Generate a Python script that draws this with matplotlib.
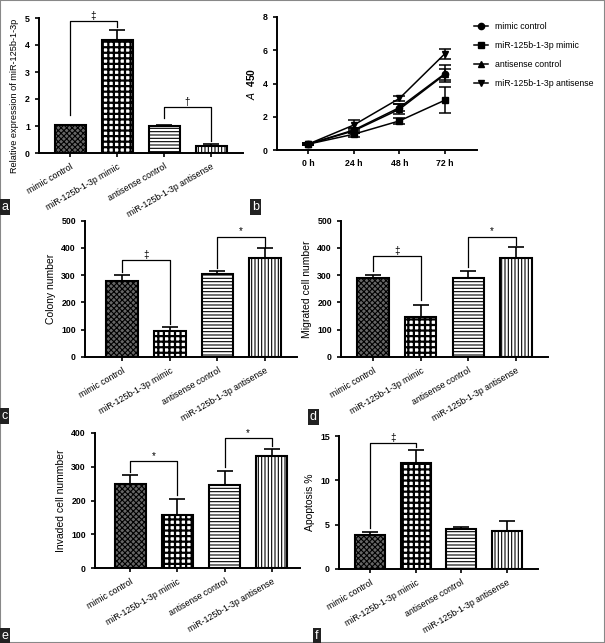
import matplotlib
matplotlib.use("Agg")
import matplotlib.pyplot as plt
from matplotlib.patches import Rectangle

plt.rcParams['font.family'] = ['Liberation Sans', 'DejaVu Sans']
plt.rcParams['hatch.linewidth'] = 0.8

W, H = 605, 643

groups = ['mimic control', 'miR-125b-1-3p mimic', 'antisense control', 'miR-125b-1-3p antisense']
hatches = ['xxxxxx', '+++', '-----', '|||||']
faces = ['#666666', 'white', 'white', 'white']
hatch_lw = [0.8, 1.6, 0.8, 0.8]

# panel a: relative expression
expr = [1.02, 4.17, 1.0, 0.25]
expr_err = [0.03, 0.38, 0.02, 0.1]

# panel b: CCK-8 growth curves
hours = ['0 h', '24 h', '48 h', '72 h']
a450 = {
    'mimic control': [0.35, 1.2, 2.55, 4.6],
    'miR-125b-1-3p mimic': [0.35, 0.95, 1.75, 3.0],
    'antisense control': [0.35, 1.15, 2.45, 4.55],
    'miR-125b-1-3p antisense': [0.35, 1.5, 3.1, 5.8],
}
a450_err = {
    'mimic control': [0.05, 0.15, 0.2, 0.5],
    'miR-125b-1-3p mimic': [0.05, 0.15, 0.2, 0.8],
    'antisense control': [0.05, 0.15, 0.3, 0.35],
    'miR-125b-1-3p antisense': [0.05, 0.3, 0.15, 0.3],
}
markers = ['o', 's', '^', 'v']

# panel c-f
colony = [280, 97, 305, 365]
colony_err = [20, 12, 10, 35]
migrated = [290, 148, 288, 362]
migrated_err = [12, 42, 28, 40]
invaded = [250, 158, 246, 333]
invaded_err = [25, 47, 40, 20]
apopt = [3.8, 12.0, 4.55, 4.3]
apopt_err = [0.4, 1.4, 0.2, 1.1]

fig = plt.figure(figsize=(W / 100, H / 100), dpi=100)


def make_ax(left, right, top, bottom):
    return fig.add_axes([left / W, 1 - bottom / H, (right - left) / W, (bottom - top) / H])


def style(ax):
    for s in ['top', 'right']:
        ax.spines[s].set_visible(False)
    for s in ['left', 'bottom']:
        ax.spines[s].set_linewidth(1.4)
    ax.tick_params(width=1.2, length=3, labelsize=6.3)
    for t in ax.get_yticklabels():
        t.set_fontweight('bold')


def bars(ax, vals, errs, ylim, yticks, ylabel, xlim, labelsize=7.5):
    x = range(len(vals))
    for i in x:
        with plt.rc_context({'hatch.linewidth': hatch_lw[i]}):
            ax.bar(i, vals[i], width=0.66, color=faces[i], edgecolor='black',
                   linewidth=1.5, hatch=hatches[i], zorder=2)
    ax.errorbar(list(x), vals, yerr=[[0] * len(errs), errs], fmt='none',
                ecolor='black', elinewidth=1.2, capsize=6, capthick=1.2, zorder=3)
    ax.set_xlim(*xlim)
    ax.set_ylim(*ylim)
    ax.set_yticks(yticks)
    ax.set_xticks(list(x))
    ax.set_xticklabels(groups, rotation=30, ha='right', rotation_mode='anchor', fontsize=6.5)
    ax.set_ylabel(ylabel, fontsize=labelsize)
    style(ax)


def bracket(ax, i, j, y, yl, yr, sym):
    ax.plot([i, i, j, j], [yl, y, y, yr], color='black', lw=0.9, zorder=4)
    ax.text((i + j) / 2, y, sym, ha='center', va='bottom', fontsize=7)


# a
ax = make_ax(39, 243, 18, 153)
bars(ax, expr, expr_err, (0, 5), [0, 1, 2, 3, 4, 5], 'Relative expression of miR-125b-1-3p',
     (-0.66, 3.68), labelsize=6.6)
ax.yaxis.set_label_coords(-0.1, 0.42)
bracket(ax, 0, 1, 4.88, 1.4, 4.65, '‡')
bracket(ax, 2, 3, 1.7, 1.3, 0.45, '†')

# b
ax = make_ax(277, 477, 17, 150)
for k, name in enumerate(groups):
    ax.errorbar(range(4), a450[name], yerr=a450_err[name], color='black', marker=markers[k],
                markersize=4.5, lw=1.1, elinewidth=1.1, capsize=4, capthick=1.1, label=name)
ax.set_xlim(-0.68, 3.7)
ax.set_ylim(0, 8)
ax.set_yticks([0, 2, 4, 6, 8])
ax.set_xticks(range(4))
ax.set_xticklabels(hours, fontsize=6.3, fontweight='bold')
ax.set_ylabel(r'$\mathit{A}$  450', fontsize=7.5, fontweight='bold')
style(ax)
handles, labels = ax.get_legend_handles_labels()
handles = [h[0] for h in handles]
fig.legend(handles, labels, loc='upper left', bbox_to_anchor=(466 / W, 1 - 14 / H), frameon=False,
           fontsize=6.3, labelspacing=1.15, handlelength=1.6)

# c
ax = make_ax(85, 297, 220.7, 357)
bars(ax, colony, colony_err, (0, 500), [0, 100, 200, 300, 400, 500], 'Colony number', (-0.78, 3.67))
bracket(ax, 0, 1, 355, 310, 120, '‡')
bracket(ax, 2, 3, 442, 328, 405, '*')

# d
ax = make_ax(341, 548, 220.7, 357)
bars(ax, migrated, migrated_err, (0, 500), [0, 100, 200, 300, 400, 500], 'Migrated cell number', (-0.67, 3.67))
bracket(ax, 0, 1, 370, 315, 210, '‡')
bracket(ax, 2, 3, 442, 330, 412, '*')

# e
ax = make_ax(95, 300, 433, 568)
bars(ax, invaded, invaded_err, (0, 400), [0, 100, 200, 300, 400], 'Invaded cell nummber', (-0.75, 3.6))
bracket(ax, 0, 1, 318, 285, 215, '*')
bracket(ax, 2, 3, 385, 298, 362, '*')

# f
ax = make_ax(339, 538, 436, 569)
bars(ax, apopt, apopt_err, (0, 15), [0, 5, 10, 15], 'Apoptosis %', (-0.68, 3.68))
bracket(ax, 0, 1, 14.2, 4.6, 13.8, '‡')

# panel letters
for letter, x, y in [('a', 1, 207), ('b', 252, 207), ('c', 1, 416), ('d', 310, 417),
                     ('e', 1, 636), ('f', 315, 636)]:
    fig.text(x / W, 1 - y / H, letter, color='white', fontsize=9, ha='left', va='center',
             bbox=dict(facecolor='#222222', edgecolor='none', pad=1.5))

fig.patches.append(Rectangle((0, 0), 1, 1, transform=fig.transFigure, fill=False,
                             edgecolor='#888888', lw=1.5))

fig.savefig('out.png', dpi=100)
